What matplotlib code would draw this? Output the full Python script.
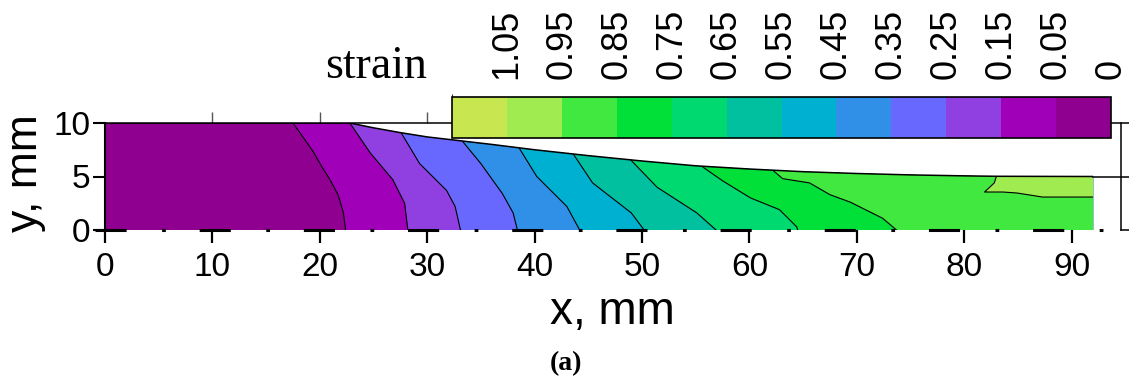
import matplotlib
matplotlib.use("Agg")
import matplotlib.pyplot as plt
import numpy as np
from matplotlib.colors import ListedColormap, BoundaryNorm
from matplotlib.cm import ScalarMappable
from matplotlib.patches import Polygon

# ---------------- data ----------------
# upper boundary of the workpiece (x, mm ; y, mm)
top_x = [0, 22.8, 25, 27.5, 30, 33, 36, 40, 45, 50, 55, 60, 65, 70, 75, 80, 83, 92.0]
top_y = [10, 10, 9.55, 9.1, 8.7, 8.35, 8.0, 7.5, 6.95, 6.45, 6.0, 5.7, 5.45, 5.28, 5.15, 5.06, 5.02, 5.0]

# strain iso-lines (from the upper boundary downwards)
c005_x = [17.5, 18.5, 19.4, 20.2, 20.95, 21.7, 22.2, 22.4]
c005_y = [10.0, 8.6, 7.3, 5.9, 4.7, 3.3, 1.6, 0.0]
c015_x = [22.8, 24.7, 26.8, 27.9, 28.2]
c015_y = [10.0, 7.2, 4.7, 2.5, 0.0]
c025_x = [27.6, 29.3, 31.8, 32.6, 33.1]
c025_y = [9.04, 6.2, 3.7, 2.2, 0.0]
c035_x = [33.2, 35.0, 37.0, 38.0, 38.4]
c035_y = [8.4, 6.2, 3.4, 1.6, 0.0]
c045_x = [38.6, 40.2, 43.0, 44.2]
c045_y = [7.6, 5.0, 2.2, 0.0]
c055_x = [43.6, 45.4, 49.0, 50.2]
c055_y = [7.1, 4.4, 1.6, 0.0]
c065_x = [49.0, 51.4, 55.1, 56.9]
c065_y = [6.5, 4.0, 1.6, 0.0]
c075_x = [55.5, 57.5, 60.1, 62.8, 64.4, 64.5]
c075_y = [6.0, 4.6, 3.0, 1.9, 0.3, 0.0]
c085_x = [62.1, 63.1, 65.6, 67.5, 69.4, 72.4, 73.7]
c085_y = [5.65, 4.8, 4.4, 3.3, 2.6, 1.1, 0.0]
c095_x = [83.0, 82.8, 81.9, 83.6, 84.9, 87.3, 92.0]
c095_y = [5.02, 4.4, 3.55, 3.55, 3.46, 3.08, 3.08]

levels = [0, 0.05, 0.15, 0.25, 0.35, 0.45, 0.55, 0.65, 0.75, 0.85, 0.95, 1.05, 1.15]
band_colors = ['#900090', '#a000b8', '#9040e0', '#6868ff', '#3090e8', '#00b0d0',
               '#00c0a0', '#00d870', '#00e038', '#40e840', '#a0eb50', '#c8e650']
cbar_labels = ['0', '0.05', '0.15', '0.25', '0.35', '0.45', '0.55', '0.65',
               '0.75', '0.85', '0.95', '1.05']
x_ticks = [0, 10, 20, 30, 40, 50, 60, 70, 80, 90]
top_ticks = [10, 20, 30]
y_ticks = [0, 5, 10]

# ---------------- figure ----------------
plt.rcParams['font.family'] = ['Liberation Sans', 'DejaVu Sans']
plt.rcParams['lines.scale_dashes'] = False

W, H = 1129, 378
fig = plt.figure(figsize=(W / 100, H / 100), dpi=100)
PXU = 10.74  # pixels per mm
ax = fig.add_axes([105 / W, (H - 230) / H, (W - 105) / W, 107 / H])
ax.set_xlim(0, (W - 105) / PXU)
ax.set_ylim(0, 10)

contours = [(c005_x, c005_y), (c015_x, c015_y), (c025_x, c025_y), (c035_x, c035_y),
            (c045_x, c045_y), (c055_x, c055_y), (c065_x, c065_y), (c075_x, c075_y),
            (c085_x, c085_y), (c095_x, c095_y)]

field_end = top_x[-1]
domain = [(0, 0), (field_end, 0)] + list(zip(top_x[::-1], top_y[::-1]))
base = Polygon(domain, closed=True, facecolor=band_colors[0], edgecolor='none', zorder=1)
ax.add_patch(base)
for k, (cx, cy) in enumerate(contours):
    verts = list(zip(cx, cy)) + [(120, cy[-1]), (120, 12), (cx[0], 12)]
    p = Polygon(verts, closed=True, facecolor=band_colors[k + 1], edgecolor='none',
                zorder=1.1 + 0.01 * k)
    ax.add_patch(p)
    p.set_clip_path(base)
    ln, = ax.plot(cx, cy, color='k', lw=0.8, zorder=3, solid_joinstyle='round')
    ln.set_clip_path(base)

# upper boundary (die contact line), continued to the right edge
ax.plot(top_x, top_y, color='k', lw=1.1, zorder=4, solid_capstyle='butt')
ax.plot([field_end, ax.get_xlim()[1]], [top_y[-1], top_y[-1]], color='k', lw=1.1,
        zorder=4, clip_on=False)

# dash-dot line along y = 0
u = PXU * 0.72  # points per mm
ax.plot([-0.9, 93.1], [0, 0], color='k', lw=2.2, zorder=5, clip_on=False,
        linestyle=(0, (2.9 * u, 3.3 * u, 0.35 * u, 3.15 * u)), solid_capstyle='butt',
        dash_capstyle='butt')

# right bracket
ax.plot([94.6, 94.6], [0, 10], color='k', lw=1.1, clip_on=False, zorder=5)
ax.plot([94.6, ax.get_xlim()[1]], [0, 0], color='k', lw=1.1, clip_on=False, zorder=5)

for s in ['bottom', 'right']:
    ax.spines[s].set_visible(False)
ax.spines['left'].set_linewidth(1.5)
ax.spines['top'].set_linewidth(1.1)
ax.spines['left'].set_zorder(6)

ax.set_xticks(x_ticks)
ax.set_yticks(y_ticks)
ax.tick_params(axis='x', direction='out', length=9.5, width=1.6, pad=6, labelsize=24)
ax.tick_params(axis='y', direction='out', length=9, width=1.5, pad=1.5, labelsize=24)

sec = ax.secondary_xaxis('top')
sec.set_xticks(top_ticks)
sec.set_xticklabels([])
sec.tick_params(direction='out', length=8, width=1.0, color='#555555')
sec.spines['top'].set_visible(False)

ax.set_xlabel('x, mm', fontsize=33)
ax.xaxis.set_label_coords((612 - 105) / (W - 105), (230 - 290) / 107)
ax.set_ylabel('y, mm', fontsize=32)
ax.yaxis.set_label_coords((46 - 105) / (W - 105), (230 - 173) / 107)

# colour bar
cax = fig.add_axes([452 / W, (H - 138) / H, 659 / W, 41 / H])
sm = ScalarMappable(norm=BoundaryNorm(levels, len(band_colors)),
                    cmap=ListedColormap(band_colors))
cb = fig.colorbar(sm, cax=cax, orientation='horizontal', drawedges=True,
                  spacing='uniform', ticks=levels[:-1])
cax.invert_xaxis()
cax.xaxis.set_ticks_position('top')
cb.set_ticklabels(cbar_labels)
cax.tick_params(length=0, pad=13, labelsize=26, labelrotation=90)
cb.outline.set_linewidth(1.2)
cb.dividers.set_linewidth(1.0)
cb.dividers.set_color('k')

fig.text(325 / W, 1 - 78 / H, 'strain', family='Liberation Serif', fontsize=33,
         ha='left', va='baseline')
fig.text(566 / W, 1 - 364 / H, '(a)', family='Liberation Serif', weight='bold',
         fontsize=20, ha='center', va='center')

fig.savefig('out.png', dpi=100)
